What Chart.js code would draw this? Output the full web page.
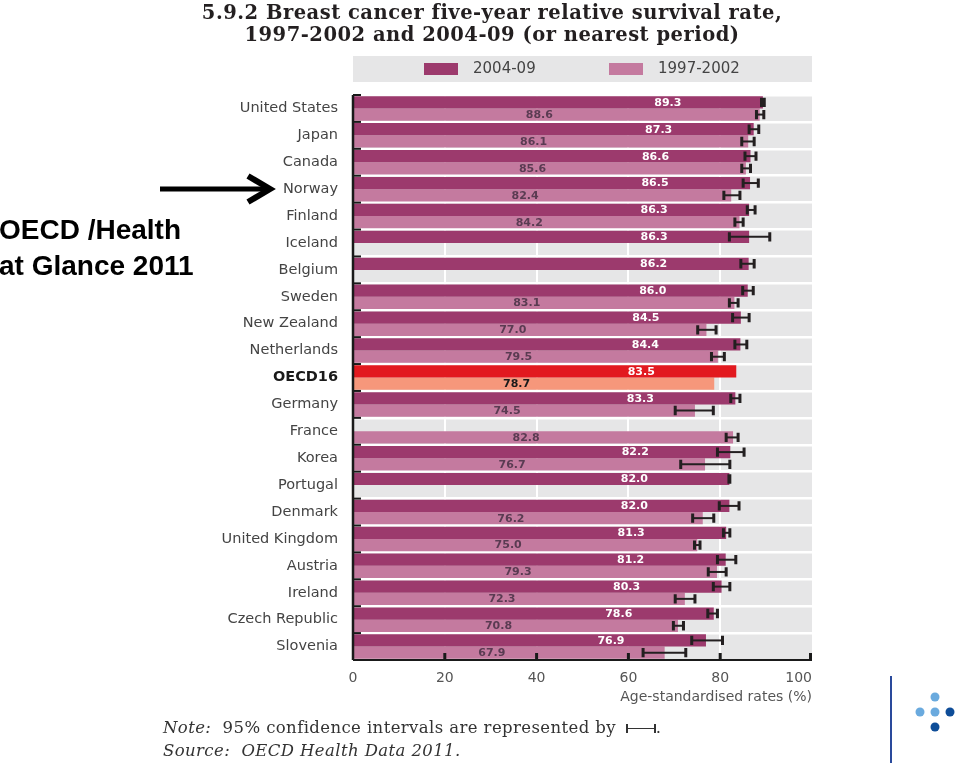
<!DOCTYPE html>
<html>
<head>
<meta charset="utf-8">
<title>Breast cancer five-year relative survival rate</title>
<script src="https://cdn.jsdelivr.net/npm/chart.js"></script>
<style>
  body { margin: 0; background: #fff; width: 960px; height: 763px; position: relative; overflow: hidden; }
  #chart { position: absolute; left: 0; top: 0; }
  .title { position: absolute; left: 142px; width: 700px; top: 2px; text-align: center;
           font: bold 19.5px "DejaVu Serif", serif; letter-spacing: 0.5px; line-height: 22px; color: #231f20; }
  .side { position: absolute; left: -1px; top: 212px; font: bold 28px "Liberation Sans", Arial, sans-serif;
          line-height: 36px; color: #000; }
  .note { position: absolute; left: 163px; top: 716px; font: 16.5px "DejaVu Serif", serif; letter-spacing: 0.4px;
          line-height: 23px; color: #333; }
  .note i { font-style: italic; }
  .ci { display: inline-block; width: 30px; height: 9px; position: relative; vertical-align: 0px; margin-left: 4px; }
  .ci:before { content: ""; position: absolute; left: 0; right: 0; top: 4px; border-top: 1px solid #333; }
  .ci:after { content: ""; position: absolute; left: 0; right: 0; top: 0; bottom: 0;
              border-left: 2px solid #333; border-right: 2px solid #333; }
  svg { position: absolute; left: 0; top: 0; }
</style>
</head>
<body>
<canvas id="chart" width="960" height="763"></canvas>

<div class="title">5.9.2 Breast cancer five-year relative survival rate,<br>1997-2002 and 2004-09 (or nearest period)</div>
<div class="side">OECD /Health<br>at Glance 2011</div>
<div class="note"><i>Note:</i>&nbsp; 95% confidence intervals are represented by <span class="ci"></span>.<br><i>Source:&nbsp; OECD Health Data 2011.</i></div>

<svg width="960" height="763">
  <line x1="160" y1="189" x2="266" y2="189" stroke="#000" stroke-width="5"/>
  <polyline points="248,176 270,189 248,202" fill="none" stroke="#000" stroke-width="6"/>
  <line x1="891" y1="676" x2="891" y2="763" stroke="#2a4a9c" stroke-width="2"/>
  <circle cx="935" cy="697" r="4.5" fill="#6aaade"/>
  <circle cx="920" cy="712" r="4.5" fill="#6aaade"/>
  <circle cx="935" cy="712" r="4.5" fill="#6aaade"/>
  <circle cx="950" cy="712" r="4.5" fill="#0e4d98"/>
  <circle cx="935" cy="727" r="4.5" fill="#0e4d98"/>
</svg>

<script>
const countries = ['United States', 'Japan', 'Canada', 'Norway', 'Finland', 'Iceland', 'Belgium', 'Sweden',
  'New Zealand', 'Netherlands', 'OECD16', 'Germany', 'France', 'Korea', 'Portugal', 'Denmark',
  'United Kingdom', 'Austria', 'Ireland', 'Czech Republic', 'Slovenia'];

const rate2004 = [89.3, 87.3, 86.6, 86.5, 86.3, 86.3, 86.2, 86.0, 84.5, 84.4, 83.5, 83.3, null, 82.2, 82.0,
  82.0, 81.3, 81.2, 80.3, 78.6, 76.9];
const rate1997 = [88.6, 86.1, 85.6, 82.4, 84.2, null, null, 83.1, 77.0, 79.5, 78.7, 74.5, 82.8, 76.7, null,
  76.2, 75.0, 79.3, 72.3, 70.8, 67.9];

// 95% confidence intervals (estimated)
const ci2004Low = [89.0, 86.3, 85.4, 85.0, 85.9, 82.0, 84.5, 84.9, 82.7, 83.2, null, 82.3, null, 79.4, 81.9,
  79.8, 80.7, 79.4, 78.5, 77.3, 73.8];
const ci2004High = [89.6, 88.4, 87.8, 88.3, 87.6, 90.8, 87.4, 87.2, 86.3, 85.8, null, 84.3, null, 85.2, 82.1,
  84.1, 82.1, 83.4, 82.1, 79.4, 80.5];
const ci1997Low = [87.9, 84.7, 84.7, 80.8, 83.2, null, null, 82.0, 75.1, 78.1, null, 70.2, 81.3, 71.4, null,
  74.0, 74.4, 77.4, 70.2, 69.8, 63.2];
const ci1997High = [89.5, 87.4, 86.6, 84.3, 85.0, null, null, 83.9, 79.1, 80.9, null, 78.5, 83.9, 82.1, null,
  78.6, 75.6, 81.3, 74.5, 72.0, 72.5];

const xTicks = [0, 20, 40, 60, 80, 100];

const color2004 = '#9c3a6d';
const color1997 = '#c47a9f';
const colorAvg2004 = '#e2191f';
const colorAvg1997 = '#f6977b';

const chartDecor = {
  id: 'chartDecor',
  beforeDraw(chart) {
    const {ctx, chartArea: a} = chart;
    ctx.save();
    ctx.fillStyle = '#e6e6e7';
    ctx.fillRect(a.left, a.top, a.right - a.left, a.bottom - a.top);
    // legend strip
    ctx.fillRect(a.left, 56, a.right - a.left, 26);
    const items = chart.data.datasets;
    const starts = [a.left + 71, a.left + 256];
    ctx.font = '15px "DejaVu Sans"';
    ctx.textBaseline = 'middle';
    ctx.textAlign = 'left';
    items.forEach((ds, i) => {
      ctx.fillStyle = ds.legendColor;
      ctx.fillRect(starts[i], 63, 34, 12);
      ctx.fillStyle = '#444';
      ctx.fillText(ds.label, starts[i] + 49, 69.5);
    });
    ctx.restore();
  },
  afterDatasetsDraw(chart) {
    const {ctx, chartArea: a} = chart;
    const xs = chart.scales.x;
    const ys = chart.scales.y;
    ctx.save();

    chart.data.datasets.forEach((ds, d) => {
      const meta = chart.getDatasetMeta(d);
      meta.data.forEach((bar, i) => {
        const v = ds.data[i];
        if (v === null) return;
        // confidence interval
        const lo = ds.ciLow[i], hi = ds.ciHigh[i];
        if (lo !== null) {
          const x1 = xs.getPixelForValue(lo), x2 = xs.getPixelForValue(hi);
          const h = bar.height * 0.38;
          ctx.strokeStyle = '#231f20';
          ctx.lineWidth = 2;
          ctx.beginPath();
          ctx.moveTo(x1, bar.y);
          ctx.lineTo(x2, bar.y);
          ctx.stroke();
          ctx.lineWidth = 3;
          ctx.beginPath();
          ctx.moveTo(x1, bar.y - h);
          ctx.lineTo(x1, bar.y + h);
          ctx.moveTo(x2, bar.y - h);
          ctx.lineTo(x2, bar.y + h);
          ctx.stroke();
        }
        // value label
        const avg = countries[i] === 'OECD16';
        const pos = d === 0 ? v - 20.7 : v / 2 - 3.7;
        ctx.font = 'bold 11px "DejaVu Sans"';
        ctx.textAlign = 'center';
        ctx.textBaseline = 'middle';
        ctx.fillStyle = d === 0 ? '#fff' : (avg ? '#1a1a1a' : '#5a3b52');
        ctx.fillText(v.toFixed(1), xs.getPixelForValue(pos), bar.y + 0.5);
      });
    });

    // axis lines with inside ticks
    ctx.strokeStyle = '#1a1a1a';
    ctx.lineWidth = 2.5;
    ctx.beginPath();
    ctx.moveTo(a.left, a.top);
    ctx.lineTo(a.left, a.bottom);
    ctx.stroke();
    ctx.lineWidth = 2;
    for (let i = 0; i < countries.length; i++) {
      const y = ys.getPixelForValue(i) - (ys.getPixelForValue(1) - ys.getPixelForValue(0)) / 2;
      ctx.beginPath();
      ctx.moveTo(a.left, y);
      ctx.lineTo(a.left + 8, y);
      ctx.stroke();
    }
    ctx.beginPath();
    ctx.moveTo(a.left, a.bottom);
    ctx.lineTo(a.right, a.bottom);
    ctx.stroke();
    ctx.lineWidth = 3;
    xTicks.forEach(v => {
      if (v === 0) return;
      const x = Math.min(xs.getPixelForValue(v), a.right - 1.5);
      ctx.beginPath();
      ctx.moveTo(x, a.bottom - 7);
      ctx.lineTo(x, a.bottom);
      ctx.stroke();
    });
    ctx.restore();
  }
};

new Chart('chart', {
  type: 'bar',
  data: {
    labels: countries,
    datasets: [
      {
        label: '2004-09',
        data: rate2004,
        legendColor: color2004,
        backgroundColor: ctx => countries[ctx.dataIndex] === 'OECD16' ? colorAvg2004 : color2004,
        ciLow: ci2004Low,
        ciHigh: ci2004High
      },
      {
        label: '1997-2002',
        data: rate1997,
        legendColor: color1997,
        backgroundColor: ctx => countries[ctx.dataIndex] === 'OECD16' ? colorAvg1997 : color1997,
        ciLow: ci1997Low,
        ciHigh: ci1997High
      }
    ]
  },
  options: {
    indexAxis: 'y',
    responsive: false,
    animation: false,
    devicePixelRatio: 1,
    layout: { padding: { top: 95, right: 148, left: 0, bottom: 0 } },
    datasets: { bar: { categoryPercentage: 0.91, barPercentage: 1 } },
    plugins: {
      legend: { display: false },
      tooltip: { enabled: false }
    },
    scales: {
      x: {
        min: 0,
        max: 100,
        afterBuildTicks: s => { s.ticks = xTicks.map(v => ({ value: v })); },
        afterFit: s => { s.height = 103; },
        border: { display: false },
        grid: {
          drawTicks: false,
          lineWidth: 2,
          color: ctx => (ctx.tick && ctx.tick.value > 0 && ctx.tick.value < 100) ? '#ffffff' : 'rgba(0,0,0,0)'
        },
        ticks: {
          padding: 10,
          color: '#555',
          font: { family: 'DejaVu Sans', size: 14 },
          callback: v => v === 100 ? '100\u2007\u2007\u2007' : v
        },
        title: {
          display: true,
          text: 'Age-standardised rates (%)',
          align: 'end',
          color: '#555',
          font: { family: 'DejaVu Sans', size: 14 },
          padding: { top: 0, bottom: 57 }
        }
      },
      y: {
        afterFit: s => { s.width = 353; },
        border: { display: false },
        grid: { drawTicks: false, offset: true, color: '#ffffff', lineWidth: 2.5 },
        ticks: {
          padding: 15,
          color: ctx => countries[ctx.index] === 'OECD16' ? '#1a1a1a' : '#444',
          font: ctx => ({
            family: 'DejaVu Sans',
            size: 14.5,
            weight: countries[ctx.index] === 'OECD16' ? 'bold' : 'normal'
          })
        }
      }
    }
  },
  plugins: [chartDecor]
});
</script>
</body>
</html>
